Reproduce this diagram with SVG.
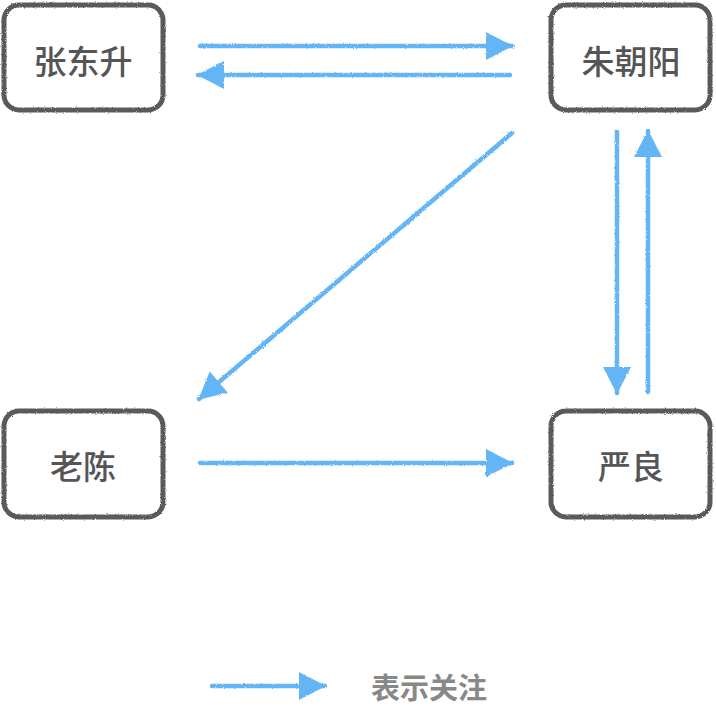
<svg xmlns="http://www.w3.org/2000/svg" width="716" height="715" viewBox="0 0 716 715">
<defs>
<style>
.box{fill:#fff;stroke:#5a5a5a;stroke-width:5;}
.lbl{font-family:"Noto Sans CJK SC","Noto Sans",sans-serif;font-size:33px;font-weight:500;fill:#555;text-anchor:middle;dominant-baseline:central;}
.edge{stroke:#64b5f6;stroke-width:4.5;fill:none;stroke-linecap:round;}
.legend{font-family:"Noto Sans CJK SC","Noto Sans",sans-serif;font-size:29px;font-weight:bold;fill:#888;}
</style>
<marker id="ah" markerWidth="28" markerHeight="30" refX="27" refY="15" orient="auto" markerUnits="userSpaceOnUse">
<path d="M1,1 L28,15 L1,29 Z" fill="#64b5f6"/>
</marker>
<filter id="rough" filterUnits="userSpaceOnUse" x="0" y="0" width="716" height="715">
<feTurbulence type="fractalNoise" baseFrequency="0.9" numOctaves="2" result="n"/>
<feDisplacementMap in="SourceGraphic" in2="n" scale="2.5"/>
</filter>
</defs>
<rect width="716" height="715" fill="#fff"/>
<g id="n-zhangdongsheng">
<rect class="box" x="4" y="5" width="159" height="105" rx="15" filter="url(#rough)"/>
<text class="lbl" x="83" y="60">张东升</text>
</g>
<g id="n-zhuzhaoyang">
<rect class="box" x="551" y="5" width="159" height="105" rx="15" filter="url(#rough)"/>
<text class="lbl" x="631" y="60">朱朝阳</text>
</g>
<g id="n-laochen">
<rect class="box" x="4" y="411" width="159" height="106" rx="15" filter="url(#rough)"/>
<text class="lbl" x="83" y="465">老陈</text>
</g>
<g id="n-yanliang">
<rect class="box" x="551" y="411" width="159" height="106" rx="15" filter="url(#rough)"/>
<text class="lbl" x="631" y="465">严良</text>
</g>
<g id="edges" filter="url(#rough)">
<line class="edge" x1="200" y1="46" x2="512" y2="46" marker-end="url(#ah)"/>
<line class="edge" x1="510" y1="75" x2="198" y2="75" marker-end="url(#ah)"/>
<line class="edge" x1="512" y1="133" x2="199" y2="399" marker-end="url(#ah)"/>
<line class="edge" x1="617" y1="132" x2="617" y2="393" marker-end="url(#ah)"/>
<line class="edge" x1="648" y1="392" x2="648" y2="131" marker-end="url(#ah)"/>
<line class="edge" x1="200" y1="463" x2="512" y2="463" marker-end="url(#ah)"/>
</g>
<g id="legend">
<g filter="url(#rough)">
<line class="edge" x1="212" y1="686" x2="325" y2="686" marker-end="url(#ah)"/>
</g>
<text class="legend" x="371" y="699">表示关注</text>
</g>
</svg>
